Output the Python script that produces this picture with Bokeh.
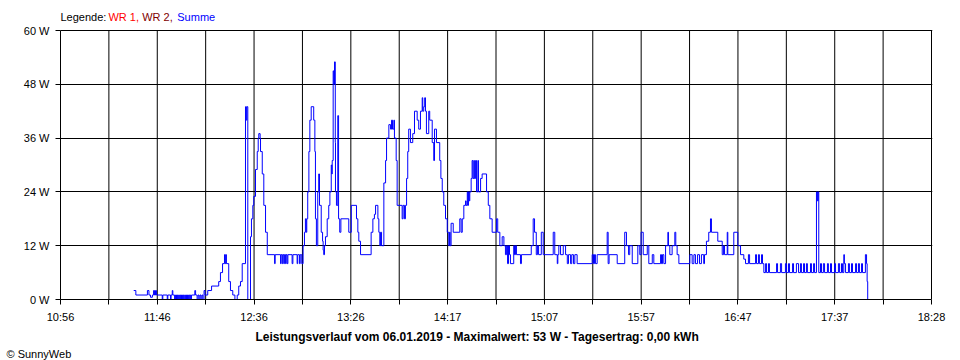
from bokeh.plotting import figure
from bokeh.models import Range1d, FixedTicker, CustomJSTickFormatter, PrintfTickFormatter, Label, Title
from bokeh.embed import file_html
from bokeh.resources import INLINE

# ---- data: minutes after 10:56, power in W (step values) ----
t1 = [38.0, 39.1, 45.1, 45.9, 46.7, 47.7, 48.3, 48.8, 49.3, 49.8, 52.8, 53.1, 55.4, 55.7, 57.1, 57.4,
      58.0, 58.3, 59.2, 59.7, 60.2, 60.7, 61.2, 61.8, 62.3, 62.8, 63.3, 63.8, 64.3, 64.9, 65.4, 65.9,
      66.4, 66.9, 67.5, 68.0, 69.7, 70.1, 70.9, 71.4, 71.9, 72.4, 72.9, 73.4, 73.9, 74.5, 75.0]
w1 = [2, 1, 2, 1, 0.5, 1, 2, 1, 2, 1, 0, 1, 0, 1, 0, 1,
      2, 1, 0, 1, 0, 1, 0, 1, 0, 1, 0, 1, 0, 1, 0, 1,
      0, 1, 0, 1, 2, 1, 0, 1, 0, 1, 0, 1, 0, 2, 1]

t2 = [76.4, 78.4, 82.1, 83.0, 84.1, 85.1, 85.5, 85.8, 86.1, 87.3, 88.2, 89.4, 90.5, 91.7, 92.5, 93.4,
      94.3, 96.0, 96.4, 96.7, 97.2, 98.6, 99.1, 99.8, 100.3, 101.2, 102.1, 102.6, 102.9, 103.6, 103.8,
      104.7, 105.5, 106.4, 107.3]
w2 = [2, 3, 4, 6, 8, 10, 8, 10, 8, 4, 2, 1, 0, 1, 3, 4,
      8, 43, 40, 43, 0, 14, 18, 21, 23, 29, 33, 36, 37, 36, 33,
      28, 21, 15, 10]

t3 = [111.1, 111.4, 114.2, 114.5, 115.1, 115.4, 115.9, 116.2, 116.8, 117.1, 117.6, 118.0, 120.2, 120.6,
      122.8, 123.1, 124.0, 124.4, 125.2, 125.9, 126.6, 127.1, 127.5, 127.8, 128.3, 128.9, 129.4, 130.1,
      131.4, 132.0, 132.3, 132.8, 133.5, 134.0, 134.4, 135.3, 136.0, 136.3, 136.6, 137.0, 137.5, 138.4,
      139.2, 139.8, 140.5, 140.8, 141.0, 141.5, 141.8, 142.2, 142.6, 142.7, 143.2, 143.9, 144.3, 144.9,
      145.5, 149.6, 150.9, 153.6, 154.3, 154.8, 155.7]
w3 = [8, 10, 8, 10, 8, 10, 8, 10, 8, 10, 8, 10, 8, 10,
      8, 10, 8, 10, 8, 12, 15, 18, 15, 18, 24, 33, 40, 43,
      40, 33, 18, 12, 24, 28, 21, 15, 13, 11, 10, 12, 14, 18,
      21, 24, 30, 28, 31, 51, 48, 53, 35, 24, 21, 41, 18, 15,
      18, 15, 21, 18, 15, 13, 10]

t4 = [161.2, 162.1, 162.9, 163.5, 164.7, 165.2, 165.7, 166.1, 166.6, 167.8, 168.7, 169.2, 170.4, 171.3,
      171.8, 172.3, 173.0, 173.3, 174.2, 174.7, 177.3, 177.8, 178.5, 179.0, 179.6, 180.2, 180.7, 181.6,
      182.8, 183.7, 185.1, 185.9, 186.8, 187.7, 188.0, 188.5, 189.0, 189.4, 189.9, 191.1, 191.6, 192.9,
      193.7, 194.1, 195.1, 196.8, 197.4, 198.1, 198.9, 199.8, 200.7, 201.5, 201.9, 202.2, 202.7, 203.8]
w4 = [15, 18, 19, 21, 18, 15, 12, 15, 12, 26, 31, 36, 39, 38,
      40, 38, 40, 36, 31, 21, 18, 21, 18, 21, 27, 33, 38, 35,
      37, 42, 40, 38, 42, 45, 42, 43, 45, 42, 37, 42, 40, 35,
      31, 38, 35, 31, 27, 24, 21, 18, 15, 12, 15, 12, 17, 15]

t5 = [207.2, 207.9, 208.5, 209.3, 210.2, 210.5, 211.1, 211.4, 211.7, 212.1, 212.4, 213.1, 213.6, 214.0,
      214.5, 214.8, 215.4, 215.9, 216.6, 216.9, 218.0, 218.8, 221.1, 222.0, 222.8, 224.0, 226.3, 226.9,
      228.0, 229.2, 230.1, 230.9, 231.5, 232.0, 232.5, 233.0, 233.5, 235.2, 235.6, 236.1, 236.6, 238.7,
      239.2, 244.3, 245.3, 246.0, 246.9, 247.5, 248.1, 249.5, 250.5]
w5 = [18, 15, 18, 21, 22, 21, 24, 21, 24, 22, 24, 27, 31, 27,
      31, 27, 31, 24, 31, 24, 27, 28, 24, 21, 18, 15, 18, 15,
      12, 14, 12, 10, 12, 8, 12, 10, 8, 12, 10, 12, 10, 8,
      10, 12, 18, 15, 10, 12, 10, 15, 10]

t6 = [255.7, 256.5, 257.8, 258.1, 258.6, 259.5, 260.9, 262.1, 263.0, 263.6, 264.7, 265.3, 266.2, 266.9,
      268.1, 275.9, 276.6, 277.1, 277.6, 278.5, 283.7, 284.2, 284.7, 288.9, 292.8, 293.7, 294.8, 295.4,
      296.7, 299.6, 300.6, 301.3, 302.4]
w6 = [15, 10, 8, 10, 12, 10, 12, 10, 8, 10, 8, 10, 8, 10,
      8, 10, 8, 10, 8, 10, 15, 8, 10, 8, 15, 12, 10, 12,
      8, 12, 10, 15, 10]

t7 = [304.5, 305.3, 307.1, 307.9, 311.4, 311.9, 312.4, 313.1, 314.0, 315.2, 315.5, 316.2, 317.4, 318.8,
      319.3, 320.0, 320.9, 326.6, 327.8, 328.7, 329.5, 330.6, 331.6, 332.6, 333.8, 334.2, 335.2, 336.4,
      337.3, 337.8, 341.1, 343.4, 344.1, 344.6, 346.0, 346.3, 349.4, 351.5, 352.9, 354.6, 355.5]
w7 = [12, 8, 10, 8, 10, 8, 10, 8, 12, 15, 12, 10, 12, 15,
      12, 10, 8, 10, 8, 10, 8, 10, 8, 10, 8, 10, 13, 15,
      18, 15, 13, 10, 12, 10, 15, 10, 15, 12, 10, 9, 8]

t8 = [357.0, 357.6, 360.7, 361.2, 362.2, 362.7, 363.8, 364.3, 365.0, 365.9, 366.4, 367.4, 367.9, 371.6,
      372.1, 373.6, 374.2, 376.2, 376.8, 377.8, 378.3, 379.9, 380.4, 381.9, 383.0, 384.0, 384.5, 385.6,
      386.1, 387.1, 387.6, 389.2, 389.7, 390.8, 391.3, 392.3, 392.8, 393.2, 393.5, 394.4, 394.9, 395.9,
      396.5, 398.0, 398.5, 399.6, 400.1, 401.7, 402.2, 403.7, 404.3, 405.3, 405.8, 406.5, 406.8, 407.4,
      408.9, 409.4, 410.5, 411.0, 412.6, 413.1, 414.1, 414.6, 415.7, 416.2, 417.7, 418.3, 418.6, 418.9]
w8 = [10, 8, 10, 8, 10, 8, 10, 8, 6, 8, 6, 8, 6, 8,
      6, 8, 6, 8, 6, 8, 6, 8, 6, 8, 6, 8, 6, 8,
      6, 8, 6, 8, 6, 8, 6, 24, 22, 24, 6, 8, 6, 8,
      6, 8, 6, 8, 6, 8, 6, 8, 6, 8, 6, 10, 8, 6,
      8, 6, 8, 6, 8, 6, 8, 6, 8, 6, 10, 8, 4, 0]

x_tick_labels = ["10:56", "11:46", "12:36", "13:26", "14:17", "15:07", "15:57", "16:47", "17:37", "18:28"]
y_ticks = [0, 12, 24, 36, 48, 60]
x_span = 452      # minutes from 10:56 to 18:28
n_div = 18        # vertical grid divisions

title_text = "Leistungsverlauf vom 06.01.2019 - Maximalwert: 53 W - Tagesertrag: 0,00 kWh"
legend_parts = [("Legende:", "#000000"), ("WR 1,", "#ff0000"), ("WR 2,", "#800000"), ("Summe", "#0000ff")]

t_min = t1 + t2 + t3 + t4 + t5 + t6 + t7 + t8
watts = w1 + w2 + w3 + w4 + w5 + w6 + w7 + w8

FONT = "Liberation Sans"
y_top = y_ticks[-1]
px_per_w = 269 / y_top
# the frame reaches up to the page top so the legend line can sit inside it
y_end = y_top + 30 / px_per_w
x_end = x_span * 872 / 871

p = figure(frame_width=872, frame_height=299,
           x_range=Range1d(0, x_end), y_range=Range1d(0, y_end),
           output_backend="svg", toolbar_location=None,
           min_border_left=60, min_border_right=28, min_border_top=0, min_border_bottom=61,
           background_fill_color="white", border_fill_color="white",
           outline_line_color=None)

x_ticks = [x_span * k / n_div for k in range(n_div + 1)]

p.xaxis.ticker = FixedTicker(ticks=x_ticks)
p.xaxis.formatter = CustomJSTickFormatter(
    args=dict(labels=x_tick_labels, step=x_span / n_div),
    code="const i = Math.round(tick / step); return (i % 2 == 0) ? labels[i / 2] : '';")
p.xaxis.bounds = (0, x_span)
p.yaxis.ticker = FixedTicker(ticks=y_ticks)
p.yaxis.formatter = PrintfTickFormatter(format="%d W")
p.yaxis.bounds = (0, y_top)

for ax in (p.xaxis, p.yaxis):
    ax.axis_line_color = "black"
    ax.major_tick_line_color = "black"
    ax.major_tick_in = 0
    ax.major_tick_out = 5
    ax.minor_tick_line_color = None
    ax.major_label_text_font = FONT
    ax.major_label_text_font_size = "11px"
    ax.major_label_text_color = "black"
p.xaxis.major_label_standoff = 6
p.yaxis.major_label_standoff = 6

p.xgrid.grid_line_color = None
p.ygrid.ticker = FixedTicker(ticks=y_ticks)
p.ygrid.grid_line_color = "black"
p.ygrid.grid_line_width = 1
# vertical grid lines only over the chart area (0 .. 60 W)
p.segment(x0=x_ticks, y0=[0] * len(x_ticks), x1=x_ticks, y1=[y_top] * len(x_ticks),
          line_color="black", line_width=1)

p.step(t_min, watts, mode="after", line_color="#0000ff", line_width=1)

# legend line above the chart (inside the frame)
legend_x = [0, 24.9, 42.4, 60.6]
for (txt, col), lx in zip(legend_parts, legend_x):
    p.add_layout(Label(x=lx, y=y_top + 13.5 / px_per_w, text=txt, text_color=col,
                       text_font=FONT, text_font_size="11px", text_baseline="middle", text_align="left"))

p.add_layout(Title(text=title_text, align="left", offset=195, standoff=4, text_color="black",
                   text_font=FONT, text_font_size="12px", text_font_style="bold"), "below")
p.add_layout(Title(text="\u00a9 SunnyWeb", align="left", offset=-54, standoff=0, text_color="black",
                   text_font=FONT, text_font_size="11px", text_font_style="normal"), "below")

open("out.html", "w").write(file_html(p, INLINE))
